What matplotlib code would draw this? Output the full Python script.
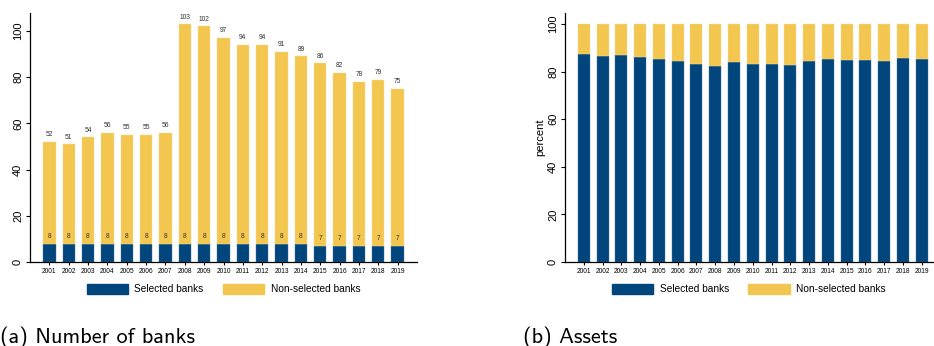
import matplotlib.pyplot as plt
import numpy as np

years = [str(y) for y in range(2001, 2020)]

# number of banks
selected_n = [8, 8, 8, 8, 8, 8, 8, 8, 8, 8, 8, 8, 8, 8, 7, 7, 7, 7, 7]
total_n = [52, 51, 54, 56, 55, 55, 56, 103, 102, 97, 94, 94, 91, 89, 86, 82, 78, 79, 75]

# share of assets held by selected banks (percent)
selected_pct = [87.4, 86.6, 87.0, 86.1, 85.3, 84.3, 83.1, 82.4, 83.9, 83.3,
                83.3, 82.9, 84.5, 85.3, 84.9, 84.9, 84.5, 85.9, 85.3]

BLUE = "#00457b"
YELLOW = "#f2c64f"
TICK_FONT = "Liberation Sans"


def style_axes(ax, ymax, xmax):
    ax.set_xlim(0, xmax)
    ax.set_ylim(0, ymax)
    ax.spines["top"].set_visible(False)
    ax.spines["right"].set_visible(False)
    ax.spines["left"].set_linewidth(0.9)
    ax.spines["bottom"].set_linewidth(0.9)
    ax.set_yticks([0, 20, 40, 60, 80, 100])
    for lab in ax.get_yticklabels():
        lab.set_rotation(90)
        lab.set_va("center")
        lab.set_fontsize(8)
        lab.set_family(TICK_FONT)
    ax.tick_params(axis="y", length=3, width=0.8, pad=2)
    ax.tick_params(axis="x", length=2.5, width=0.8, pad=1.5, labelsize=4.8)
    for lab in ax.get_xticklabels():
        lab.set_family(TICK_FONT)


def add_legend(ax):
    handles = [plt.Rectangle((0, 0), 1, 1, color=BLUE),
               plt.Rectangle((0, 0), 1, 1, color=YELLOW)]
    ax.legend(handles, ["Selected banks", "Non-selected banks"],
              loc="center", bbox_to_anchor=(0.5, -0.108), ncol=2,
              frameon=False, handlelength=4.05, handleheight=1.12,
              columnspacing=1.9, handletextpad=0.66, borderpad=0,
              prop={"family": TICK_FONT, "size": 7.3})


fig = plt.figure(figsize=(9.34, 3.46), dpi=100)

x = np.arange(1, len(years) + 1)
width = 0.64

# (a) number of banks
ax1 = fig.add_axes([30 / 934, 1 - 262 / 346, 387 / 934, 249 / 346])
nonsel_n = [t - s for t, s in zip(total_n, selected_n)]
ax1.bar(x, selected_n, width, color=BLUE, edgecolor="#4a7aa0", linewidth=0.3)
ax1.bar(x, nonsel_n, width, bottom=selected_n, color=YELLOW,
        edgecolor="#f6dc96", linewidth=0.3)
for xi, s, t in zip(x, selected_n, total_n):
    ax1.annotate(str(s), (xi, s), xytext=(0, 2.5), textcoords="offset points",
                 ha="center", va="bottom", fontsize=4.8, family=TICK_FONT,
                 color="#333333")
    ax1.annotate(str(t), (xi, t), xytext=(0, 2.5), textcoords="offset points",
                 ha="center", va="bottom", fontsize=4.8, family=TICK_FONT,
                 color="#333333")
ax1.set_xticks(x)
ax1.set_xticklabels(years)
style_axes(ax1, 107.8, 20)
add_legend(ax1)

# (b) assets
ax2 = fig.add_axes([565 / 934, 1 - 262 / 346, 368 / 934, 249 / 346])
nonsel_pct = [100 - p for p in selected_pct]
ax2.bar(x, selected_pct, width, color=BLUE, edgecolor="#4a7aa0", linewidth=0.3)
ax2.bar(x, nonsel_pct, width, bottom=selected_pct, color=YELLOW,
        edgecolor="#f6dc96", linewidth=0.3)
ax2.set_xticks(x)
ax2.set_xticklabels(years)
style_axes(ax2, 104.6, 19.6)
ax2.set_ylabel("percent", fontsize=8, family=TICK_FONT, labelpad=2)
add_legend(ax2)

fig.text(0.0, 1 - 337 / 346, "(a) Number of banks", fontsize=16,
         family="cmss10", va="center", ha="left")
fig.text(523 / 934, 1 - 337 / 346, "(b) Assets", fontsize=16,
         family="cmss10", va="center", ha="left")

fig.savefig("out.png", dpi=100)
